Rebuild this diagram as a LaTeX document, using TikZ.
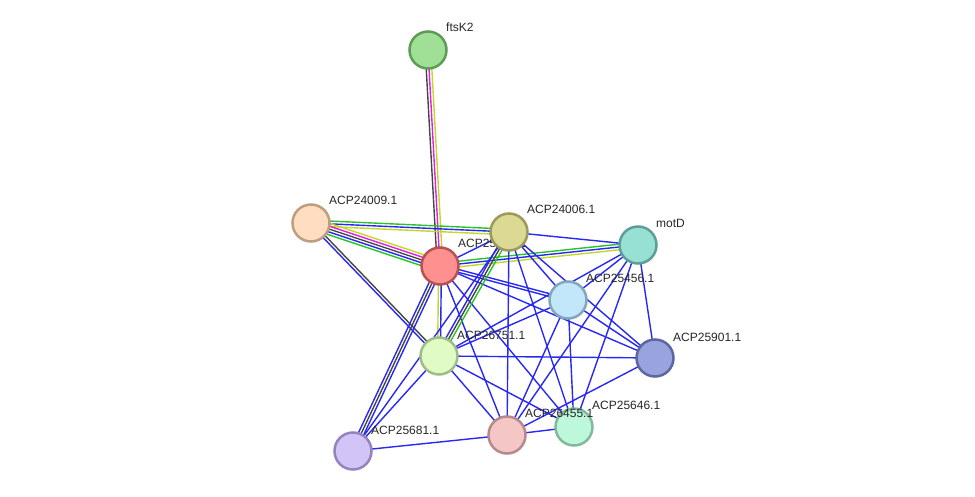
\documentclass[tikz,border=0pt]{standalone}
\usepackage{fontspec}
\setmainfont{Liberation Sans}
\usetikzlibrary{calc,backgrounds}
\definecolor{eblue}{RGB}{40,40,245}
\definecolor{egray}{RGB}{70,70,70}
\definecolor{emag}{RGB}{225,30,225}
\definecolor{eyel}{RGB}{195,215,40}
\definecolor{egreen}{RGB}{40,195,40}
\definecolor{fFts}{RGB}{160,223,150}\definecolor{dFts}{RGB}{94,156,85}
\definecolor{fA09}{RGB}{255,221,192}\definecolor{dA09}{RGB}{190,158,126}
\definecolor{fA06}{RGB}{220,217,148}\definecolor{dA06}{RGB}{156,154,90}
\definecolor{fMot}{RGB}{150,224,212}\definecolor{dMot}{RGB}{94,158,151}
\definecolor{fRed}{RGB}{255,144,144}\definecolor{dRed}{RGB}{184,82,82}
\definecolor{fA56}{RGB}{194,231,251}\definecolor{dA56}{RGB}{132,166,186}
\definecolor{fA51}{RGB}{224,252,196}\definecolor{dA51}{RGB}{160,188,136}
\definecolor{fA01}{RGB}{153,164,222}\definecolor{dA01}{RGB}{92,102,160}
\definecolor{fA55}{RGB}{245,198,198}\definecolor{dA55}{RGB}{180,138,138}
\definecolor{fA46}{RGB}{190,248,218}\definecolor{dA46}{RGB}{130,184,156}
\definecolor{fA81}{RGB}{211,196,248}\definecolor{dA81}{RGB}{149,132,188}
\newcommand{\multiedge}[3]{%
  \foreach \c [count=\i] in {#3} {\xdef\nn{\i}}%
  \foreach \c [count=\i] in {#3} {%
    \pgfmathsetmacro\off{(\i-(\nn+1)/2)*2.8}%
    \draw[edge,\c] ($(#1.center)!\off pt!90:(#2.center)$) -- ($(#2.center)!\off pt!-90:(#1.center)$);
  }%
}
\begin{document}
\begin{tikzpicture}[x=1pt,y=-1pt,
  prot/.style={circle,minimum size=37pt,inner sep=0pt,line width=2.5pt},
  lbl/.style={anchor=base west,font=\fontsize{12}{14}\selectfont,inner sep=0pt,text=black!85},
  edge/.style={line width=1.4pt}]
\useasboundingbox (0,0) rectangle (975,497);
% nodes (drawing order matters for overlaps)
\node[prot,fill=fFts,draw=dFts] (fts) at (428,50) {};
\node[lbl] (fts-l) at (446,32) {ftsK2};
\node[prot,fill=fA09,draw=dA09] (a09) at (311,223) {};
\node[lbl] (a09-l) at (329,205) {ACP24009.1};
\node[prot,fill=fRed,draw=dRed] (red) at (440,266) {};
\node[lbl] (red-l) at (458,248) {ACP25455.1};
\node[prot,fill=fA06,draw=dA06] (a06) at (509,232) {};
\node[lbl] (a06-l) at (527,214) {ACP24006.1};
\node[prot,fill=fMot,draw=dMot] (mot) at (638,245) {};
\node[lbl] (mot-l) at (656,228) {motD};
\node[prot,fill=fA56,draw=dA56] (a56) at (568,300) {};
\node[lbl] (a56-l) at (586,283) {ACP25456.1};
\node[prot,fill=fA51,draw=dA51] (a51) at (439,356) {};
\node[lbl] (a51-l) at (457,339) {ACP26751.1};
\node[prot,fill=fA01,draw=dA01] (a01) at (655,358) {};
\node[lbl] (a01-l) at (673,341) {ACP25901.1};
\node[prot,fill=fA46,draw=dA46] (a46) at (574,427) {};
\node[lbl] (a46-l) at (592,409) {ACP25646.1};
\node[prot,fill=fA55,draw=dA55] (a55) at (507,435) {};
\node[lbl] (a55-l) at (525,417) {ACP26455.1};
\node[prot,fill=fA81,draw=dA81] (a81) at (353,451) {};
\node[lbl] (a81-l) at (371,434) {ACP25681.1};
% edges
\begin{scope}[on background layer]
\multiedge{fts}{red}{egray,emag,eyel}
\multiedge{a09}{a06}{eyel,eblue,egreen}
\multiedge{a09}{red}{egreen,eblue,egray,emag,eyel}
\multiedge{a09}{a51}{eblue,egray}
\multiedge{red}{a06}{eblue}
\multiedge{red}{mot}{eyel,eblue,egreen}
\multiedge{red}{a56}{eblue,eblue}
\multiedge{red}{a01}{eblue}
\multiedge{red}{a51}{eyel,eblue}
\multiedge{red}{a55}{eblue}
\multiedge{red}{a46}{eblue}
\multiedge{red}{a81}{eblue,egray,eblue}
\multiedge{a06}{mot}{eblue}
\multiedge{a06}{a56}{eblue}
\multiedge{a06}{a01}{eblue}
\multiedge{a06}{a51}{eblue,egray,egreen}
\multiedge{a06}{a55}{eblue}
\multiedge{a06}{a46}{eblue}
\multiedge{a06}{a81}{eblue}
\multiedge{mot}{a56}{eblue}
\multiedge{mot}{a01}{eblue}
\multiedge{mot}{a51}{eblue}
\multiedge{mot}{a55}{eblue}
\multiedge{mot}{a46}{eblue}
\multiedge{a56}{a51}{eblue}
\multiedge{a56}{a01}{eblue}
\multiedge{a56}{a55}{eblue}
\multiedge{a56}{a46}{eblue}
\multiedge{a51}{a01}{eblue}
\multiedge{a51}{a55}{eblue}
\multiedge{a51}{a46}{eblue}
\multiedge{a51}{a81}{eblue}
\multiedge{a01}{a55}{eblue}
\multiedge{a55}{a46}{eblue}
\multiedge{a55}{a81}{eblue}
\end{scope}
\end{tikzpicture}
\end{document}
